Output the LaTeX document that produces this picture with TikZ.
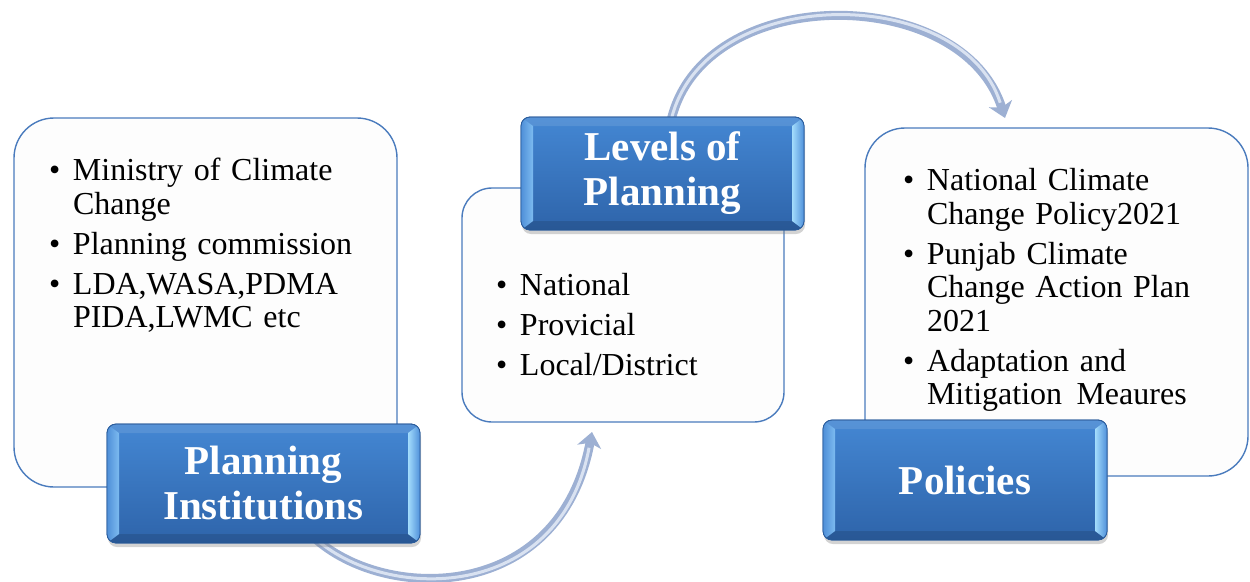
\documentclass[tikz,border=0pt]{standalone}
\usepackage{fontspec}
\setmainfont{Liberation Serif}
\usetikzlibrary{arrows.meta,calc,shadows,backgrounds}

\definecolor{boxline}{HTML}{4A7BBD}
\definecolor{boxfill}{HTML}{FDFDFD}
\definecolor{tabtop}{HTML}{4487D3}
\definecolor{tabbot}{HTML}{2E64AA}
\definecolor{tabline}{HTML}{2A5C9C}
\definecolor{bevlo}{HTML}{4F8FD8}
\definecolor{bevhi}{HTML}{7DBBF0}
\definecolor{bevrhi}{HTML}{A3DCFC}
\definecolor{bevrlo}{HTML}{4F90DA}
\definecolor{tubeout}{HTML}{9DB0D3}
\definecolor{tubein}{HTML}{D9E2F1}

\tikzset{
  panel/.style={draw=boxline, line width=1.4pt, fill=boxfill,
    rounded corners=#1, inner sep=0pt, outer sep=0pt},
  tab/.style={draw=tabline, line width=0.8pt, top color=tabtop, bottom color=tabbot,
    rounded corners=9pt, inner sep=0pt, outer sep=0pt, text=white, align=center,
    font=\fontsize{41}{45}\selectfont\bfseries,
    drop shadow={opacity=0.35, shadow xshift=1pt, shadow yshift=-4pt}},
  bullets/.style={anchor=north west, inner sep=0pt, outer sep=0pt, align=left,
    text width=#1, font=\fontsize{32}{33.5}\selectfont},
  tube/.style={line width=9pt, draw=tubeout,
    -{Stealth[length=15pt,width=24pt,inset=4pt]}},
  tubecore/.style={line width=3pt, draw=tubein, shorten >=16pt},
}

% one bullet item with hanging indent
\newcommand\bitem[1]{\par\noindent\hangindent=24pt\hangafter=1%
  \makebox[24pt][l]{\textbullet}#1\par}
\newcommand\itemgap{\vspace{6.5pt}}

% bevelled edges of a blue title tab
\newcommand\tabbevel[1]{%
  \begin{scope}
    \clip[rounded corners=9pt] (#1.north west) rectangle (#1.south east);
    \fill[white, opacity=0.10] (#1.north west) -- (#1.north east)
      -- ($(#1.north east)+(-12,9)$) -- ($(#1.north west)+(12,9)$) -- cycle;
    \fill[black, opacity=0.12] (#1.south west) -- (#1.south east)
      -- ($(#1.south east)+(-12,-9)$) -- ($(#1.south west)+(12,-9)$) -- cycle;
    \shade[left color=bevlo, right color=bevhi] (#1.north west)
      -- ($(#1.north west)+(12,9)$) -- ($(#1.south west)+(12,-9)$)
      -- (#1.south west) -- cycle;
    \shade[left color=bevrhi, right color=bevrlo] (#1.north east)
      -- ($(#1.north east)+(-12,9)$) -- ($(#1.south east)+(-12,-9)$)
      -- (#1.south east) -- cycle;
  \end{scope}
  \draw[tabline, line width=0.8pt, rounded corners=9pt]
    (#1.north west) rectangle (#1.south east);}

\begin{document}
\begin{tikzpicture}[x=1pt, y=-1pt]
  \useasboundingbox (0,0) rectangle (1250,581);

  % ---- Planning Institutions ----
  \node[panel=40pt, minimum width=383pt, minimum height=369pt] (ip) at (205.5,302.5) {};
  \node[bullets=340pt] (il) at (49,147) {%
    \bitem{\rule{0pt}{24pt}Ministry of Climate\newline Change}\itemgap
    \bitem{Planning commission}\itemgap
    \bitem{LDA,WASA,PDMA\newline PIDA,LWMC etc}};
  \node[tab, minimum width=313pt, minimum height=119pt] (pi) at (263.5,483.5)
    {Planning\\Institutions};
  \tabbevel{pi}

  % ---- Levels of Planning ----
  \node[panel=30pt, minimum width=322pt, minimum height=234pt] (lv) at (623,305) {};
  \node[bullets=260pt] (ll) at (496,262) {%
    \bitem{\rule{0pt}{24pt}National}\itemgap
    \bitem{Provicial}\itemgap
    \bitem{Local/District}};
  \node[tab, minimum width=283pt, minimum height=113pt] (lvb) at (662.5,173.5)
    {Levels of\\Planning};
  \tabbevel{lvb}

  % ---- Policies ----
  \node[panel=40pt, minimum width=383pt, minimum height=348pt] (pt) at (1056.5,302) {};
  \node[bullets=330pt] (pl) at (903,157) {%
    \bitem{\rule{0pt}{24pt}National Climate\newline Change Policy2021}\itemgap
    \bitem{Punjab Climate\newline Change Action Plan\newline 2021}\itemgap
    \bitem{Adaptation and\newline Mitigation\hspace{0.45em}Meaures}};
  \node[tab, minimum width=284pt, minimum height=120pt] (po) at (965,480)
    {Policies};
  \tabbevel{po}

  % ---- curved connectors, behind the boxes ----
  \coordinate (a1) at ($(pi.south)+(50,-6)$);
  \coordinate (a2) at ($(lv.south)+(-31,10)$);
  \coordinate (b1) at ($(lvb.north)+(8,6)$);
  \coordinate (b2) at ($(pt.north west)+(140,-10)$);
  \begin{pgfonlayer}{background}
    \draw[tube] (a1) .. controls (385,603) and (560,603) .. (a2);
    \draw[tubecore] (a1) .. controls (385,603) and (560,603) .. (a2);
    \draw[tube] (b1) .. controls (700,-18) and (962,-18) .. (b2);
    \draw[tubecore] (b1) .. controls (700,-18) and (962,-18) .. (b2);
  \end{pgfonlayer}
\end{tikzpicture}
\end{document}
